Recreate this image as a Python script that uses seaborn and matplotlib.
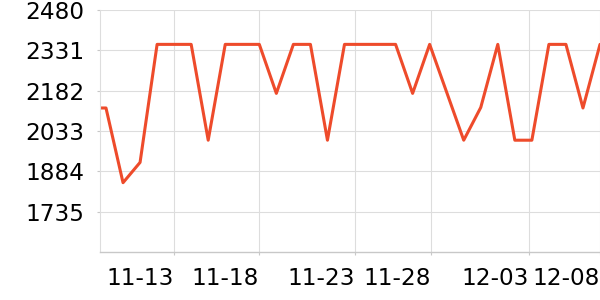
import matplotlib
matplotlib.use("Agg")
import matplotlib.pyplot as plt
import seaborn as sns
import pandas as pd

# data (index positions of daily samples; first point partly off-axis)
idx = list(range(31))
values = [2118, 2118, 1842, 1917, 2353, 2353, 2353, 1999, 2353, 2353, 2353,
          2172, 2353, 2353, 1999, 2353, 2353, 2353, 2353, 2172, 2353, 2176,
          1999, 2120, 2353, 1999, 1999, 2353, 2353, 2118, 2353]
tick_pos = [5.01, 10.0, 15.64, 20.1, 25.82, 30.0]
tick_labels = ["11-13", "11-18", "11-23", "11-28", "12-03", "12-08"]
y_ticks = [1735, 1884, 2033, 2182, 2331, 2480]

df = pd.DataFrame({"i": idx, "v": values})

sns.set_theme(style="white")
plt.rcParams['font.family'] = ['DejaVu Sans']

fig = plt.figure(figsize=(6, 3), dpi=100)
ax = fig.add_axes([100/600, 48/300, 500/600, 242/300])
sns.lineplot(data=df, x="i", y="v", ax=ax, color="#ee4b2b", linewidth=2.2)

ax.set_xlim(0.648, 30.0)
ax.set_ylim(1586, 2480)
ax.set_yticks(y_ticks)
ax.set_yticklabels([str(t) for t in y_ticks])
ax.set_xticks(tick_pos)
ax.set_xticklabels(tick_labels, ha="right")
ax.set_xlabel("")
ax.set_ylabel("")

ax.grid(True, color="#dddddd", linewidth=0.8)
ax.set_axisbelow(True)
for s in ["top", "right"]:
    ax.spines[s].set_visible(False)
ax.spines["left"].set_color("#dddddd")
ax.spines["left"].set_linewidth(0.8)
ax.spines["bottom"].set_color("#c8c8c8")
ax.spines["bottom"].set_linewidth(1.0)
ax.tick_params(axis="both", labelsize=16.7, colors="#c8c8c8", labelcolor="black",
               length=2.5, width=0.8, left=True, bottom=True)
ax.tick_params(axis="y", pad=9)
ax.tick_params(axis="x", pad=8)

fig.savefig("out.png", dpi=100)
